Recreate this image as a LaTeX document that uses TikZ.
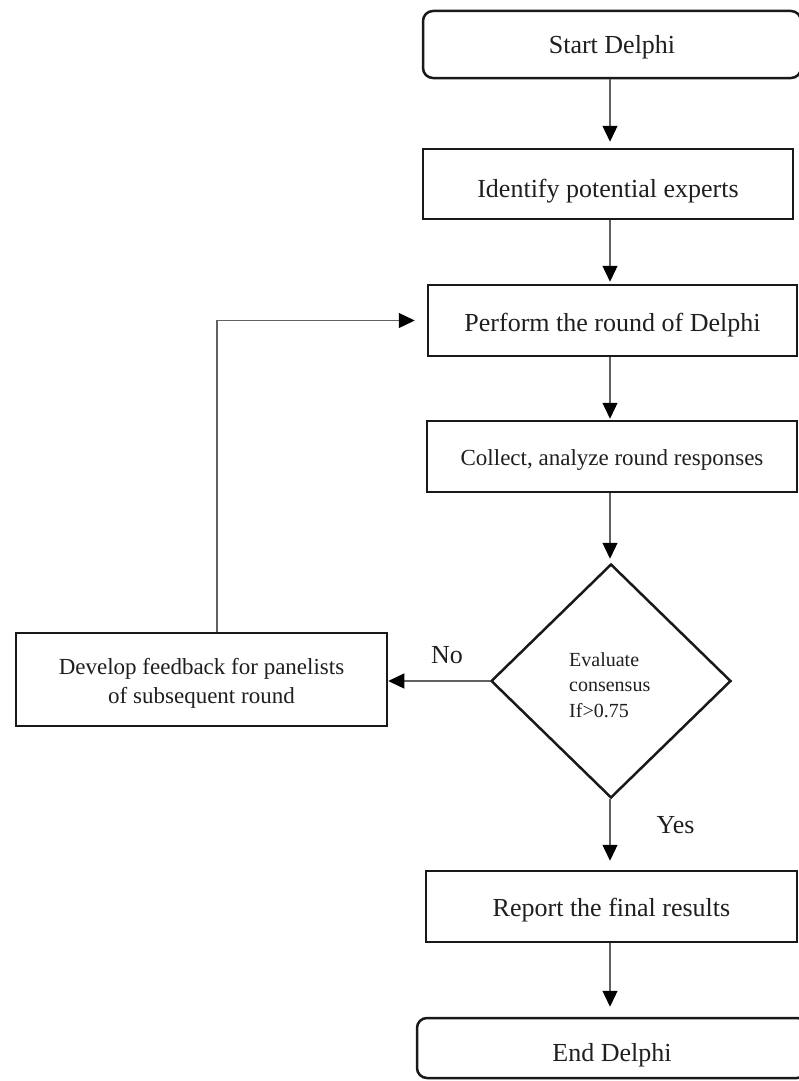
\documentclass[tikz,border=0pt]{standalone}
\usepackage{fontspec}
\setmainfont{Liberation Serif}
\usetikzlibrary{shapes.geometric,arrows.meta}
\tikzset{
  boxline/.style={draw=black!90, line width=2.5pt, fill=white, inner sep=0pt, text=black!88},
  procbox/.style={boxline, rectangle, align=center},
  termbox/.style={boxline, rectangle, rounded corners=10pt, align=center},
  conn/.style={draw=black!62, line width=1.3pt, -{Triangle[width=15pt,length=16pt,color=black]}},
  bigtext/.style={font=\fontsize{26}{30}\selectfont},
  midtext/.style={font=\fontsize{23}{29}\selectfont},
  smalltext/.style={font=\fontsize{20}{25.5}\selectfont},
  lbl/.style={text=black!88, inner sep=0pt, font=\fontsize{26}{30}\selectfont},
  lowered/.style={text height=#1, text depth=0pt}
}
\begin{document}
\begin{tikzpicture}[x=1pt,y=-1pt]
\useasboundingbox (0,0) rectangle (799,1081);
\clip (0,0) rectangle (799,1081);

\coordinate (col) at (610,0);

\node[termbox, bigtext, lowered=17.6pt, minimum width=378pt, minimum height=67pt] (start) at (612,44.5) {Start Delphi};
\node[procbox, bigtext, lowered=26pt, minimum width=370pt, minimum height=70pt] (ident) at (608,184) {Identify potential experts};
\node[procbox, bigtext, lowered=22pt, minimum width=369pt, minimum height=71pt] (perf) at (612.5,320.5) {Perform the round of Delphi};
\node[procbox, midtext, lowered=17pt, minimum width=370pt, minimum height=71pt] (coll) at (612,456.5) {Collect, analyze round responses};
\node[boxline, diamond, minimum width=240pt, minimum height=234pt] (dec) at (611,681) {};
\node[smalltext, align=left, inner sep=0pt, text=black!88, lowered=67pt, anchor=west] (dectext) at (569,683.5) {Evaluate\\consensus\\If>0.75};
\node[procbox, midtext, lowered=47pt, minimum width=371pt, minimum height=93pt] (fb) at (201.5,679.5) {Develop feedback for panelists\\of subsequent round};
\node[procbox, bigtext, lowered=20.4pt, minimum width=371pt, minimum height=71pt] (rep) at (611.5,906.5) {Report the final results};
\node[termbox, bigtext, lowered=26pt, minimum width=390pt, minimum height=60pt] (end) at (612,1048) {End Delphi};

\node[lbl] (no) at (447,655) {No};
\node[lbl] (yes) at (675.5,825) {Yes};

\draw[conn, shorten >=6pt] (start.south -| col) -- (ident.north -| col);
\draw[conn, shorten >=2pt] (ident.south -| col) -- (perf.north -| col);
\draw[conn, shorten >=1pt] (perf.south -| col) -- (coll.north -| col);
\draw[conn, shorten >=4pt] (coll.south -| col) -- (dec.north -| col);
\draw[conn, shorten >=9pt] (dec.south -| col) -- (rep.north -| col);
\draw[conn, shorten >=10pt] (rep.south -| col) -- (end.north -| col);
\draw[conn] (dec.west) -- (fb.east |- dec.west);
\coordinate (fbtop) at ([xshift=15.5pt]fb.north);
\draw[conn, shorten >=12pt] (fbtop) |- (perf.west);
\end{tikzpicture}
\end{document}
